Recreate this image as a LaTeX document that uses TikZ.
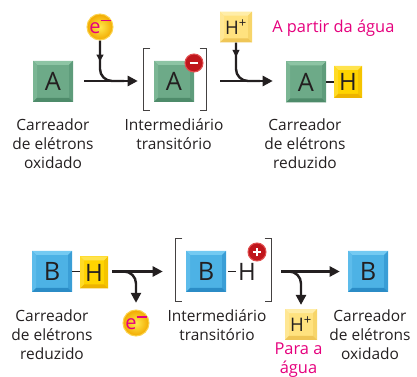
\documentclass[tikz,border=0pt]{standalone}
\usepackage{fontspec}
\setmainfont{Open Sans}
\usetikzlibrary{arrows.meta,decorations.markings,calc}
\definecolor{mag}{HTML}{E5007D}
\definecolor{ink}{HTML}{231F20}
\definecolor{gface}{HTML}{6DAA88}\definecolor{gtop}{HTML}{8DC4A4}\definecolor{gleft}{HTML}{7BB694}\definecolor{gright}{HTML}{5E9C7B}\definecolor{gbot}{HTML}{4E8B6A}
\definecolor{bface}{HTML}{4DB2E5}\definecolor{btop}{HTML}{74CAF2}\definecolor{bleft}{HTML}{5DBCEB}\definecolor{bright}{HTML}{3A9ED6}\definecolor{bbot}{HTML}{2B8CC6}
\definecolor{yface}{HTML}{FFD400}\definecolor{ytop}{HTML}{FFE34D}\definecolor{yleft}{HTML}{FFDB26}\definecolor{yright}{HTML}{F5C400}\definecolor{ybot}{HTML}{EDB300}
\definecolor{pface}{HTML}{FFE27F}\definecolor{ptop}{HTML}{FFEDA8}\definecolor{pleft}{HTML}{FFE794}\definecolor{pright}{HTML}{F7D56A}\definecolor{pbot}{HTML}{EFC657}
\definecolor{eIn}{HTML}{FFE94D}\definecolor{eOut}{HTML}{F2A900}\definecolor{eRim}{HTML}{FBD34D}
\definecolor{rfill}{HTML}{C0161C}\definecolor{rrim}{HTML}{E05050}
\tikzset{
  bevel/.style n args={5}{draw=none, fill=#1, inner sep=0pt, text=ink,
    path picture={
      \coordinate (NW) at (path picture bounding box.north west);
      \coordinate (NE) at (path picture bounding box.north east);
      \coordinate (SW) at (path picture bounding box.south west);
      \coordinate (SE) at (path picture bounding box.south east);
      \fill[#2] (NW) -- (NE) -- ([shift={(-3pt,-3pt)}]NE) -- ([shift={(3pt,-3pt)}]NW) -- cycle;
      \fill[#3] (NW) -- ([shift={(3pt,-3pt)}]NW) -- ([shift={(3pt,3pt)}]SW) -- (SW) -- cycle;
      \fill[#4] (NE) -- (SE) -- ([shift={(-3pt,3pt)}]SE) -- ([shift={(-3pt,-3pt)}]NE) -- cycle;
      \fill[#5] (SW) -- ([shift={(3pt,3pt)}]SW) -- ([shift={(-3pt,3pt)}]SE) -- (SE) -- cycle;
    }},
  carrier/.style={minimum width=30pt, minimum height=30.75pt, font=\fontsize{19}{20}\selectfont},
  green/.style={carrier, bevel={gface}{gtop}{gleft}{gright}{gbot}},
  blue/.style={carrier, bevel={bface}{btop}{bleft}{bright}{bbot}},
  hbox/.style={minimum width=21pt, minimum height=24pt, font=\fontsize{18}{20}\selectfont, bevel={yface}{ytop}{yleft}{yright}{ybot}},
  hplus/.style={minimum width=24pt, minimum height=23pt, text=mag, font=\fontsize{14}{15}\selectfont, bevel={pface}{ptop}{pleft}{pright}{pbot}},
  electron/.style={circle, minimum size=19.5pt, inner sep=0pt, inner color=eIn, outer color=eOut, draw=eRim, line width=0.8pt, text=mag, font=\fontsize{15}{15}\selectfont},
  charge/.style={circle, minimum size=13.5pt, inner sep=0pt, fill=rfill, draw=rrim, line width=0.8pt},
  label/.style={align=center, text=ink, font=\fontsize{11.6}{14.25}\selectfont, inner sep=0pt},
  note/.style={align=center, text=mag, font=\fontsize{12.3}{14.25}\selectfont, inner sep=0pt},
  flow/.style={line width=1.8pt, draw=ink, -{Triangle[length=7.5pt,width=7.5pt]}},
  branch/.style={line width=1.8pt, draw=ink, rounded corners=9pt},
  midtip/.style={postaction={decorate}, decoration={markings, mark=at position #1 with {\arrow{Triangle[length=5.5pt,width=5pt]}}}},
  brk/.style={line width=1.1pt, draw=ink!85},
  bond/.style={line width=0.8pt, draw=ink},
  frame/.style={minimum width=#1, inner sep=0pt, draw=none}
}
\newcommand{\eminus}{e\raisebox{0.62em}{\rule{0.5em}{0.08em}}}
\begin{document}
\begin{tikzpicture}[x=0.75pt,y=-0.75pt]
\useasboundingbox (0,0) rectangle (417,377);

% ---------- top row ----------
\node[green] (A1) at (53,81.5) {A};
\node[electron] (e1) at (100,27) {\eminus};
\node[frame=46.5pt, minimum height=45.75pt] (I1) at (175,79.5) {};
\node[green] (A2) at (174,81.5) {A};
\node[charge] (m1) at (194,63) {};
\draw[white, line width=1.6pt] ([xshift=-3.2pt]m1.center) -- ([xshift=3.2pt]m1.center);
\node[hplus] (hp1) at (236,27) {H\textsuperscript{+}};
\node[green] (A3) at (306,82) {A};
\node[hbox] (H1) at (348,82) {H};
\node[note, anchor=west] (n1) at (272,28) {A partir da água};

\draw[brk] ([xshift=5pt]I1.north west) -- (I1.north west) -- (I1.south west) -- ([xshift=5pt]I1.south west);
\draw[brk] ([xshift=-5pt]I1.north east) -- (I1.north east) -- (I1.south east) -- ([xshift=-5pt]I1.south east);

\coordinate (j1) at (124,81);
\draw[branch, midtip=16pt] (e1.south) |- (j1);
\draw[flow, shorten <=8.25pt, shorten >=4.5pt] (A1.east |- 0,81) -- (I1.west |- 0,81);
\coordinate (j2) at (260,81);
\draw[branch, midtip=11pt] (hp1.south) |- (j2);
\draw[flow, shorten <=10.5pt, shorten >=9.75pt] (I1.east |- 0,81) -- (A3.west |- 0,81);
\draw[bond] (A3.east) -- (H1.west);

\node[label] (l1) at (53,144) {Carreador\\de elétrons\\oxidado};
\node[label] (l2) at (174,134.5) {Intermediário\\transitório};
\node[label] (l3) at (305,144) {Carreador\\de elétrons\\reduzido};

% ---------- bottom row ----------
\node[blue] (B1) at (52,271.5) {B};
\node[hbox] (H2) at (94,272.5) {H};
\draw[bond] (B1.east) -- (H2.west |- B1.east);
\node[frame=71.25pt, minimum height=46.5pt] (I2) at (223.5,270) {};
\node[blue] (B2) at (206,271.5) {B};
\node[text=ink, font=\fontsize{18}{20}\selectfont, inner sep=0pt] (Ht) at (247,271.5) {H};
\draw[bond] ([xshift=1.5pt]B2.east) -- ([xshift=-1.5pt]Ht.west);
\node[charge] (p1) at (257,252) {};
\draw[white, line width=1.4pt] ([xshift=-3.2pt]p1.center) -- ([xshift=3.2pt]p1.center)
  ([yshift=-3.2pt]p1.center) -- ([yshift=3.2pt]p1.center);
\node[electron] (e2) at (136,323) {\eminus};
\node[hplus] (hp2) at (301,324.5) {H\textsuperscript{+}};
\node[blue] (B3) at (368,271.5) {B};

\draw[brk] ([xshift=5pt]I2.north west) -- (I2.north west) -- (I2.south west) -- ([xshift=5pt]I2.south west);
\draw[brk] ([xshift=-5pt]I2.north east) -- (I2.north east) -- (I2.south east) -- ([xshift=-5pt]I2.south east);

\coordinate (j3) at (112,271.5);
\draw[branch, -{Triangle[length=7.5pt,width=7.5pt]}, shorten >=5pt] (j3) -| (e2.north);
\draw[flow, shorten <=3pt, shorten >=9.75pt] (H2.east |- 0,271.5) -- (I2.west |- 0,271.5);
\coordinate (j4) at (281,271.5);
\draw[branch, -{Triangle[length=7.5pt,width=7.5pt]}, shorten >=3pt] (j4) -| (hp2.north);
\draw[flow, shorten <=7.5pt, shorten >=6pt] (I2.east |- 0,271.5) -- (B3.west |- 0,271.5);

\node[label] (l4) at (52,334.5) {Carreador\\de elétrons\\reduzido};
\node[label] (l5) at (217,325) {Intermediário\\transitório};
\node[label] (l6) at (370,334.5) {Carreador\\de elétrons\\oxidado};
\node[note] (n2) at (298.5,360) {Para a\\água};
\end{tikzpicture}
\end{document}
